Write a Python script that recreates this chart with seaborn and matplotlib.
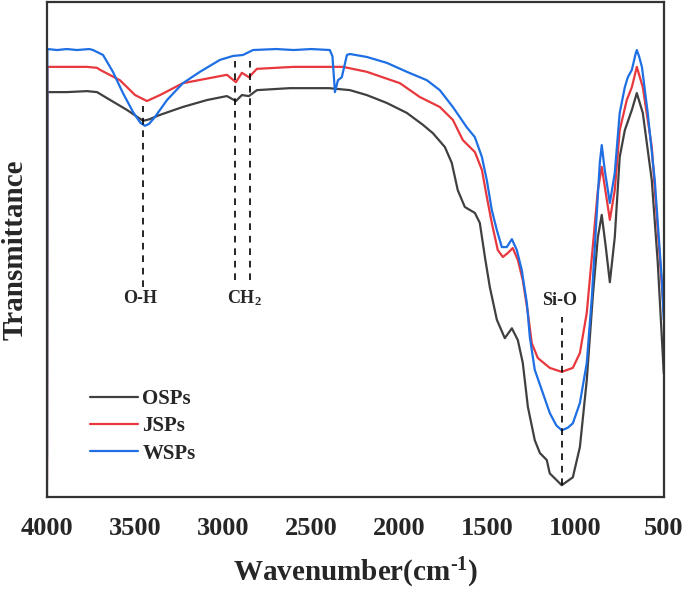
import numpy as np
import pandas as pd
import matplotlib
matplotlib.use("Agg")
import matplotlib.pyplot as plt
import seaborn as sns

# FTIR spectra of the three samples (wavenumber in cm-1, transmittance in a.u.)
osps_wn = [4000, 3998, 3887, 3773, 3716, 3660, 3546, 3455, 3420, 3359, 3229, 3092,
           2979, 2928, 2894, 2854, 2809, 2622, 2400, 2281, 2185, 2071, 1958, 1867,
           1810, 1742, 1703, 1669, 1629, 1572, 1544, 1515, 1487, 1447, 1402, 1362,
           1328, 1300, 1271, 1232, 1203, 1164, 1147, 1079, 1016, 976, 937, 903,
           874, 852, 829, 806, 778, 750, 721, 681, 653, 619, 568, 534, 500]
osps_t = [0.0, 81.8, 81.8, 82.0, 81.8, 80.6, 78.2, 76.0, 76.3, 77.2, 78.8, 80.2,
          81.0, 80.0, 81.2, 81.0, 82.2, 82.6, 82.6, 82.2, 81.2, 79.6, 77.6, 75.2,
          73.5, 70.7, 67.5, 62.0, 58.6, 57.4, 55.4, 48.5, 42.4, 35.8, 32.1, 34.1,
          31.7, 27.1, 18.2, 11.5, 8.9, 7.5, 4.8, 2.4, 4.0, 10.1, 23.6, 40.4,
          52.5, 57.0, 50.5, 43.4, 52.5, 68.7, 74.1, 78.2, 81.6, 77.6, 64.0, 47.3, 25.0]

jsps_wn = [4000, 3998, 3887, 3773, 3716, 3699, 3586, 3500, 3433, 3359, 3229, 2979,
           2928, 2894, 2854, 2809, 2600, 2320, 2185, 1997, 1884, 1771, 1697, 1640,
           1572, 1532, 1504, 1476, 1442, 1413, 1385, 1357, 1328, 1300, 1271, 1249,
           1215, 1147, 1079, 1016, 976, 937, 903, 874, 852, 829, 806, 778,
           750, 710, 681, 653, 619, 568, 534, 500]
jsps_t = [3.5, 86.9, 86.9, 86.9, 86.7, 86.3, 84.2, 81.2, 80.0, 81.2, 83.6, 85.3,
          83.8, 85.7, 84.8, 86.5, 86.9, 86.9, 85.9, 83.6, 80.8, 78.8, 76.2, 72.1,
          69.7, 66.1, 60.6, 55.4, 49.9, 48.5, 49.3, 50.3, 47.9, 43.8, 37.2, 31.1,
          28.1, 26.1, 25.3, 26.1, 29.1, 37.2, 50.5, 62.0, 66.7, 61.4, 56.0, 62.0,
          74.1, 80.2, 82.8, 86.9, 82.8, 70.7, 53.9, 37.5]

wsps_wn = [4000, 3998, 3943, 3887, 3830, 3760, 3739, 3682, 3626, 3569, 3512, 3470,
           3444, 3420, 3387, 3319, 3229, 3132, 3019, 2945, 2888, 2831, 2700, 2600,
           2500, 2395, 2380, 2366, 2349, 2327, 2298, 2281, 2185, 2071, 1958, 1844,
           1771, 1697, 1618, 1572, 1532, 1504, 1476, 1447, 1419, 1391, 1362, 1334,
           1306, 1277, 1260, 1232, 1186, 1147, 1110, 1079, 1045, 1016, 976, 937,
           908, 880, 863, 852, 835, 806, 778, 750, 721, 704, 681, 660, 653, 640,
           624, 591, 551, 511, 500]
wsps_t = [8.0, 90.5, 90.3, 90.5, 90.3, 90.5, 90.3, 89.3, 85.9, 81.6, 77.8, 75.6,
          75.0, 75.4, 76.8, 80.2, 83.6, 85.9, 88.3, 89.1, 89.3, 90.3, 90.5, 90.3,
          90.5, 90.3, 89.0, 81.8, 84.2, 84.8, 89.3, 89.5, 88.9, 87.7, 85.9, 84.2,
          82.2, 78.8, 74.7, 72.7, 68.7, 64.0, 58.0, 53.9, 50.5, 50.5, 52.1, 49.9,
          45.9, 39.2, 32.3, 25.7, 21.0, 17.0, 14.5, 13.5, 14.0, 14.9, 19.0, 27.1,
          40.4, 57.4, 67.5, 71.1, 66.1, 59.4, 65.5, 77.6, 82.8, 84.8, 86.3, 89.5, 90.3, 89.0,
          86.9, 77.6, 64.0, 43.8, 35.8]

samples = ["OSPs", "JSPs", "WSPs"]
colors = {"OSPs": "#404040", "JSPs": "#e8383d", "WSPs": "#1d6fe3"}

# assigned bands
band_labels = ["O-H", "CH$_2$", "CH$_2$", "Si-O"]
band_wn = [3455, 2934, 2849, 1079]

frames = []
for name, wn, t in zip(samples, [osps_wn, jsps_wn, wsps_wn], [osps_t, jsps_t, wsps_t]):
    frames.append(pd.DataFrame({"wavenumber": wn, "transmittance": t, "sample": name}))
df = pd.concat(frames, ignore_index=True)

sns.set_style("white")
plt.rcParams["font.family"] = ["Liberation Serif", "DejaVu Serif"]
plt.rcParams["font.weight"] = "bold"
plt.rcParams["mathtext.fontset"] = "custom"
plt.rcParams["mathtext.rm"] = "Liberation Serif:bold"
plt.rcParams["mathtext.bf"] = "Liberation Serif:bold"
plt.rcParams["mathtext.default"] = "bf"

fig = plt.figure(figsize=(6.85, 5.89), dpi=100)
ax = fig.add_axes([0.0686, 0.156, 0.9004, 0.8406])

sns.lineplot(data=df, x="wavenumber", y="transmittance", hue="sample",
             hue_order=samples, palette=colors, sort=False, estimator=None,
             linewidth=1.6, ax=ax)

ax.set_xlim(4000, 500)
ax.set_ylim(0, 100)
ax.set_xticks([4000, 3500, 3000, 2500, 2000, 1500, 1000, 500])
ax.set_yticks([])
ax.tick_params(axis="x", length=0, pad=14, labelsize=19)
for lab in ax.get_xticklabels():
    lab.set_fontweight("bold")

for sp in ax.spines.values():
    sp.set_color("#333333")
    sp.set_linewidth(1.6)

ax.set_xlabel(r"Wavenumber(cm$^{\text{-}1}$)", fontsize=21, fontweight="bold", labelpad=12)
ax.set_ylabel("Transmittance", fontsize=21, fontweight="bold", labelpad=13)

# dashed markers for the assigned bands
ax.vlines(band_wn[0], 42.5, 79.0, colors="black", linestyles=(0, (4, 3.5)), linewidth=1.2)
ax.vlines(band_wn[1:3], 43.8, 88.0, colors="black", linestyles=(0, (4, 3.5)), linewidth=1.2)
ax.vlines(band_wn[3], 2.4, 36.4, colors="black", linestyles=(0, (4, 3.5)), linewidth=1.2)
ax.text(band_wn[0] + 15, 40.2, band_labels[0], ha="center", va="center", fontsize=13, fontweight="bold")
ax.text(2877, 40.2, band_labels[1], ha="center", va="center", fontsize=13, fontweight="bold")
ax.text(1090, 39.8, band_labels[3], ha="center", va="center", fontsize=13, fontweight="bold")

leg = ax.legend(loc="center left", bbox_to_anchor=(0.07, 0.143), frameon=False,
                fontsize=15, handlelength=2.3, handletextpad=0.2, labelspacing=0.35,
                borderpad=0, borderaxespad=0)
for t in leg.get_texts():
    t.set_fontweight("bold")

fig.savefig("out.png", dpi=100)
